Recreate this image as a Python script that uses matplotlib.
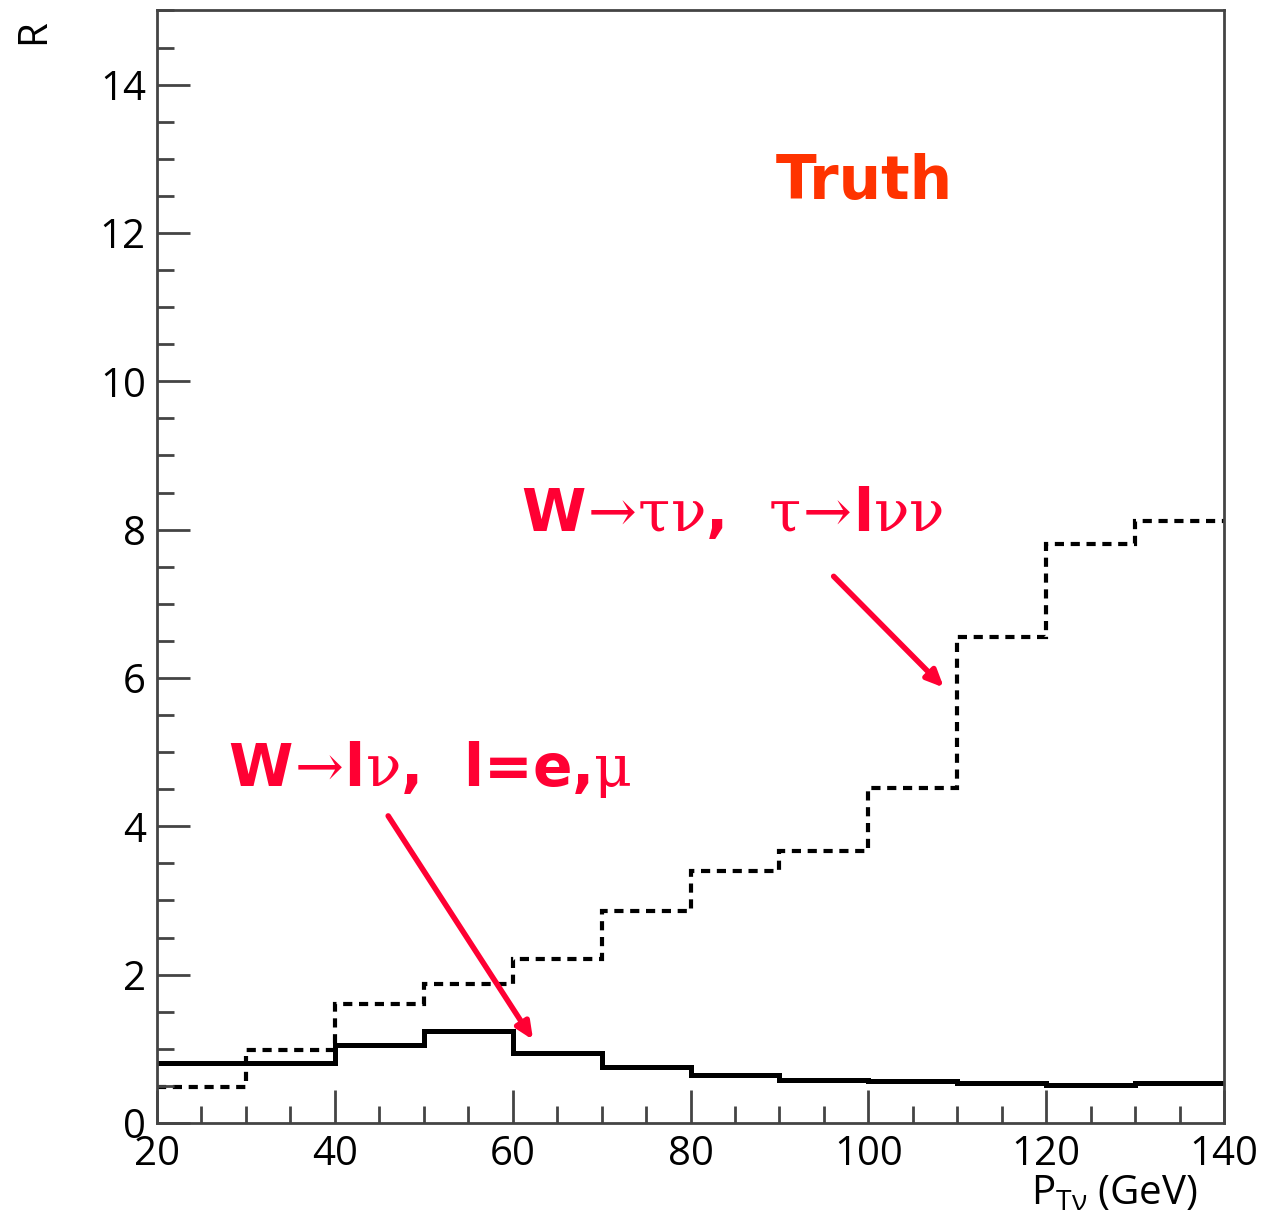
import matplotlib.pyplot as plt
import numpy as np
from matplotlib.ticker import MultipleLocator

# bin edges in P_T (GeV)
edges = [20, 30, 40, 50, 60, 70, 80, 90, 100, 110, 120, 130, 140]

# W -> l nu, l = e, mu  (solid)
r_lnu = [0.81, 0.81, 1.05, 1.24, 0.94, 0.76, 0.65, 0.58, 0.56, 0.54, 0.51, 0.54]
# W -> tau nu, tau -> l nu nu  (dotted)
r_taunu = [0.48, 0.99, 1.60, 1.87, 2.21, 2.86, 3.40, 3.67, 4.52, 6.55, 7.80, 8.11]

plt.rcParams['font.family'] = ['Open Sans', 'DejaVu Sans']
plt.rcParams['mathtext.fontset'] = 'dejavuserif'

fig = plt.figure(figsize=(12.62, 12.32), dpi=100)
ax = fig.add_axes([0.1244, 0.0885, 0.8455, 0.903])

ax.stairs(r_lnu, edges, color='black', lw=3.6, baseline=None)
ax.stairs(r_taunu, edges, color='black', lw=3.0, ls=(0, (2.2, 1.6)), baseline=None)

ax.set_xlim(20, 140)
ax.set_ylim(0, 15)
ax.xaxis.set_major_locator(MultipleLocator(20))
ax.xaxis.set_minor_locator(MultipleLocator(5))
ax.yaxis.set_major_locator(MultipleLocator(2))
ax.yaxis.set_minor_locator(MultipleLocator(0.5))
ax.tick_params(which='both', direction='in', top=False, right=False,
               color='#444444', width=2, labelsize=29)
ax.tick_params(which='major', length=24)
ax.tick_params(which='minor', length=12)
ax.tick_params(axis='x', which='major', pad=8)
ax.tick_params(axis='y', which='major', pad=8)
for s in ax.spines.values():
    s.set_color('#444444')
    s.set_linewidth(2)

fig.text(0.027, 0.974, 'R', rotation=90, fontsize=29, ha='center', va='center')
ax.set_xlabel(r'P$_{\mathregular{T\nu}}$ (GeV)', fontsize=29, loc='right', labelpad=2)
ax.xaxis.set_label_coords(0.975, -0.045)

red = '#ff0033'
ax.text(99.6, 12.68, 'Truth', color='#ff3300', fontsize=43, fontweight='bold',
        ha='center', va='center', family='DejaVu Sans')
ax.text(84.7, 8.2,
        r'W$\mathrm{\!\rightarrow\!\tau\nu}$,  $\mathrm{\tau\!\rightarrow\!}$l$\mathrm{\nu\nu}$',
        color=red, fontsize=42, fontweight='bold', ha='center', va='center',
        family='DejaVu Sans')
ax.text(50.7, 4.76, r'W$\mathrm{\!\rightarrow\!}$l$\mathrm{\nu}$,  l=e,$\mathrm{\mu}$',
        color=red, fontsize=42, fontweight='bold', ha='center', va='center',
        family='DejaVu Sans')

ax.annotate('', xy=(108.5, 5.87), xytext=(96.1, 7.37),
            arrowprops=dict(arrowstyle='-|>,head_length=1.0,head_width=0.45',
                            color=red, lw=4, shrinkA=0, shrinkB=0))
ax.annotate('', xy=(62.3, 1.12), xytext=(46.0, 4.14),
            arrowprops=dict(arrowstyle='-|>,head_length=1.0,head_width=0.45',
                            color=red, lw=4, shrinkA=0, shrinkB=0))

fig.savefig('out.png', dpi=100)
